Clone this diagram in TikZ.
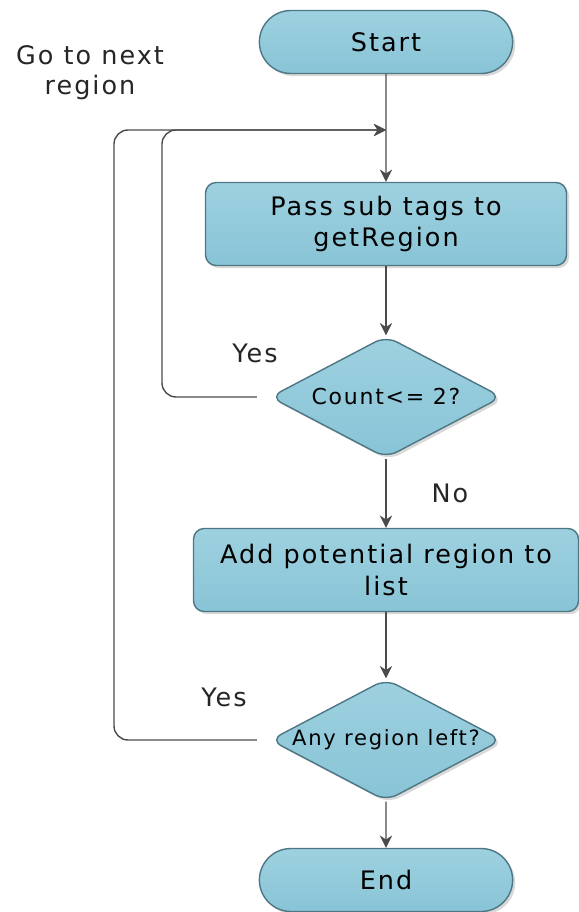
\documentclass[tikz,border=0pt]{standalone}
\usepackage{fontspec}
\setmainfont{DejaVu Sans}[LetterSpace=8]
\usetikzlibrary{shapes,arrows.meta,shadows}
\definecolor{boxfill}{RGB}{136,196,214}
\definecolor{boxtop}{RGB}{158,209,224}
\definecolor{boxline}{RGB}{78,118,132}
\definecolor{wire}{RGB}{75,75,75}

\begin{document}
\begin{tikzpicture}[x=0.02cm, y=-0.02cm, >={Stealth[length=7pt,width=7pt]},
    base/.style={draw=boxline, line width=0.8pt, top color=boxtop,
                 bottom color=boxfill, align=center,
                 drop shadow={shadow xshift=1.5pt, shadow yshift=-1.5pt, opacity=0.3}},
    terminal/.style={base, rounded rectangle, minimum width=5.3cm,
                     minimum height=1.26cm, font=\fontsize{14.5}{17}\selectfont},
    process/.style={base, rectangle, rounded corners=6pt, minimum height=1.66cm,
                    font=\fontsize{14.5}{18}\selectfont},
    decision/.style={base, diamond, aspect=1.9, inner sep=0pt, rounded corners=7pt,
                     minimum width=4.64cm, minimum height=2.44cm},
    flow/.style={->, draw=wire, thick},
    back/.style={->, draw=wire, thick, rounded corners=8pt, shorten <=2.5mm},
    tag/.style={font=\fontsize{14.5}{17}\selectfont, text=black!85}]

\useasboundingbox (0,0) rectangle (578,912);

\node[terminal] (start) at (386, 42) {Start};
\node[process, minimum width=7.22cm] (pass) at (386, 224) {Pass sub tags to\\getRegion};
\node[decision, font=\fontsize{12.5}{14}\selectfont] (count) at (386, 397) {Count<= 2?};
\node[process, minimum width=7.7cm] (add) at (386, 570) {Add potential region to\\list};
\node[decision, font=\fontsize{12}{14}\selectfont] (left) at (386, 740) {Any region left?};
\node[terminal] (end) at (386, 880) {End};

\coordinate (join) at (386, 130);
\coordinate (inner) at (162, 130);
\coordinate (outer) at (114, 130);

\draw[flow] (start) -- (pass);
\draw[flow] (pass) -- (count);
\draw[flow] (count) -- (add);
\draw[flow] (add) -- (left);
\draw[flow] (left) -- (end);

\draw[back] (count.west) -| (inner) -- (join);
\draw[back] (left.west) -| (outer) -- (join);

\node[tag, align=center] (goto) at (90, 73) {Go to next\\region};
\node[tag] (yes1) at (255, 353) {Yes};
\node[tag] (no1) at (450, 493) {No};
\node[tag] (yes2) at (224, 697) {Yes};

\end{tikzpicture}
\end{document}
